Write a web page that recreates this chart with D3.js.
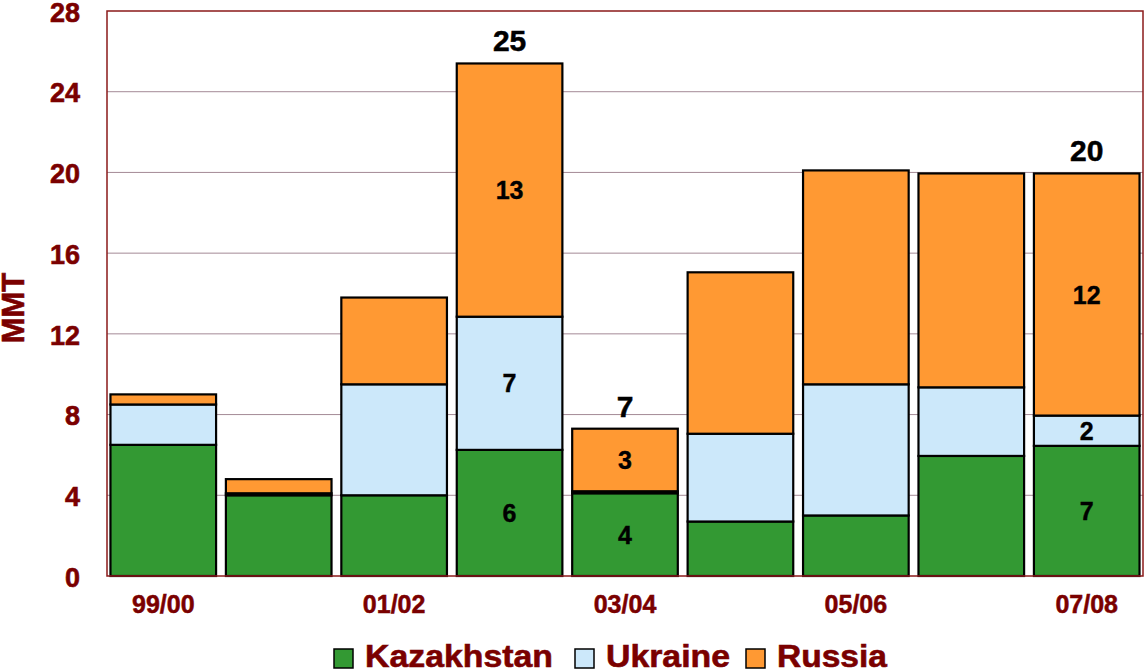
<!DOCTYPE html>
<html><head><meta charset="utf-8">
<script src="https://cdn.jsdelivr.net/npm/d3@7"></script>
<style>body{margin:0;background:#fff}svg{display:block;font-family:"Liberation Sans",Arial,sans-serif}</style>
</head><body><svg id="c" width="1145" height="670"></svg>
<script>
const categories = ["99/00","00/01","01/02","02/03","03/04","04/05","05/06","06/07","07/08"];
const kazakhstan = [6.5, 4.0, 4.0, 6.25, 4.1, 2.7, 3.0, 5.95, 6.45];
const ukraine    = [2.0, 0.1, 5.5, 6.6, 0.1, 4.35, 6.5, 3.4, 1.5];
const russia     = [0.5, 0.7, 4.3, 12.55, 3.1, 8.0, 10.6, 10.6, 12.0];
const seriesNames = ["Kazakhstan","Ukraine","Russia"];
const seriesColors = ["#339933","#cce8fa","#ff9933"];
const xTickLabels = ["99/00","01/02","03/04","05/06","07/08"];
const yTicks = [0,4,8,12,16,20,24,28];
const labeledCats = ["02/03","03/04","07/08"];
const segmentLabels = {"02/03":["6","7","13"],"03/04":["4","","3"],"07/08":["7","2","12"]};
const totalLabels = {"02/03":"25","03/04":"7","07/08":"20"};

const svg = d3.select("#c");
const L=107, R=1143, T=11, B=576;
const x = d3.scaleBand().domain(categories).range([L,R]).paddingInner(0.085).paddingOuter(0.03);
const y = d3.scaleLinear().domain([0,28]).range([B,T]);
const dark = "#7a0000";
const ff = "'Liberation Sans',Arial,sans-serif";

// gridlines
svg.append("g").selectAll("line").data(yTicks.filter(d=>d>0&&d<28)).join("line")
  .attr("x1",L).attr("x2",R).attr("y1",d=>y(d)).attr("y2",d=>y(d))
  .attr("stroke","#a48a96").attr("stroke-width",1);

const table = categories.map((c,i)=>({cat:c,Kazakhstan:kazakhstan[i],Ukraine:ukraine[i],Russia:russia[i]}));
const stack = d3.stack().keys(seriesNames)(table);

stack.forEach((s,si)=>{
  svg.append("g").selectAll("rect").data(s).join("rect")
    .attr("x",d=>x(d.data.cat)).attr("width",x.bandwidth())
    .attr("y",d=>y(d[1])).attr("height",d=>y(d[0])-y(d[1]))
    .attr("fill",seriesColors[si]).attr("stroke","#000").attr("stroke-width",2.2);
});

// frame
svg.append("rect").attr("x",L).attr("y",T).attr("width",R-L).attr("height",B-T)
  .attr("fill","none").attr("stroke","#8b1a1a").attr("stroke-width",1.5);

// segment labels
stack.forEach((s,si)=>{
  s.forEach(d=>{
    const lab = segmentLabels[d.data.cat];
    if(!lab||!lab[si]) return;
    svg.append("text").attr("x",x(d.data.cat)+x.bandwidth()/2).attr("y",(y(d[0])+y(d[1]))/2+9)
      .attr("text-anchor","middle").attr("font-size",25).attr("font-weight","bold").attr("fill","#000")
      .attr("stroke","#000").attr("stroke-width",0.4).text(lab[si]);
  });
});
// totals
labeledCats.forEach(c=>{
  const i=categories.indexOf(c);
  const tot=kazakhstan[i]+ukraine[i]+russia[i];
  svg.append("text").attr("x",x(c)+x.bandwidth()/2).attr("y",y(tot)-12)
    .attr("text-anchor","middle").attr("font-size",30).attr("font-weight","bold").attr("fill","#000")
    .attr("stroke","#000").attr("stroke-width",0.5).text(totalLabels[c]);
});

// y axis
const ya = svg.append("g").attr("transform",`translate(${L},0)`)
  .call(d3.axisLeft(y).tickValues(yTicks).tickSize(0).tickPadding(27));
ya.select(".domain").remove();
ya.selectAll("text").attr("font-size",27).attr("font-weight","bold").attr("fill",dark)
  .attr("stroke",dark).attr("stroke-width",0.6)
  .attr("font-family",ff).attr("dy","0.38em");

// x axis
const xa = svg.append("g").attr("transform",`translate(0,${B})`)
  .call(d3.axisBottom(x).tickValues(xTickLabels).tickSize(0).tickPadding(19));
xa.select(".domain").remove();
xa.selectAll("text").attr("font-size",25).attr("font-weight","bold").attr("fill",dark)
  .attr("stroke",dark).attr("stroke-width",0.5).attr("font-family",ff);

// y title
svg.append("text").attr("transform","translate(24,308) rotate(-90)").attr("text-anchor","middle")
  .attr("font-size",31).attr("font-weight","bold").attr("fill",dark)
  .attr("stroke",dark).attr("stroke-width",0.6).text("MMT");

// legend
const legX=[334,575,746];
const legW=[188,124,110];
seriesNames.forEach((n,i)=>{
  svg.append("rect").attr("x",legX[i]).attr("y",649).attr("width",19).attr("height",19)
    .attr("fill",seriesColors[i]).attr("stroke","#000").attr("stroke-width",1.5);
  svg.append("text").attr("x",legX[i]+31).attr("y",667).attr("font-size",32).attr("font-weight","bold")
    .attr("textLength",legW[i]).attr("lengthAdjust","spacingAndGlyphs")
    .attr("fill",dark).attr("stroke",dark).attr("stroke-width",0.6).text(n);
});
</script></body></html>
